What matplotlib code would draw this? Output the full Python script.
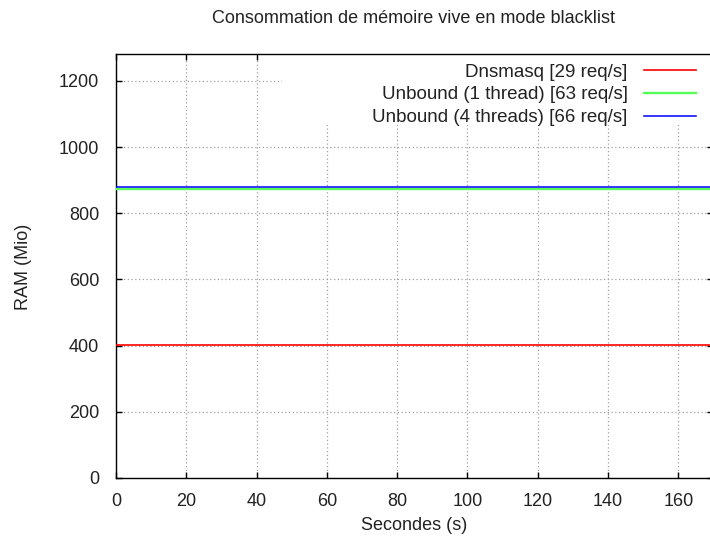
import matplotlib
matplotlib.use("Agg")
import matplotlib.pyplot as plt
from matplotlib.patches import Rectangle

# data (flat RAM usage)
seconds = [0, 170]
dnsmasq = [403, 403]
unbound_1 = [873, 873]
unbound_4 = [880, 880]

labels = ["Dnsmasq [29 req/s]",
          "Unbound (1 thread) [63 req/s]",
          "Unbound (4 threads) [66 req/s]"]
xticks = [0, 20, 40, 60, 80, 100, 120, 140, 160]
yticks = [0, 200, 400, 600, 800, 1000, 1200]

plt.rcParams['font.family'] = ['Liberation Sans', 'DejaVu Sans']
plt.rcParams['font.size'] = 13

W, H = 710, 541
fig = plt.figure(figsize=(W / 100, H / 100), dpi=100)
# axes run slightly past the right edge of the picture (cropped like the original)
ax = fig.add_axes([116 / W, (H - 478) / H, (713.5 - 116) / W, (478 - 54.5) / H])

ax.set_xlim(0, 170)
ax.set_ylim(0, 1280)
ax.set_xticks(xticks)
ax.set_yticks(yticks)

ax.set_axisbelow(True)
ax.grid(True, color='#a0a0a0', linestyle=(0, (1, 2)), linewidth=0.9)

# white block behind the key, hides the grid like gnuplot does
ax.add_patch(Rectangle((47.3, 1066), 130, 300, facecolor='white',
                       edgecolor='none', zorder=1))

l1, = ax.plot(seconds, dnsmasq, color='#ff0000', lw=1.2, zorder=3)
l2, = ax.plot(seconds, unbound_1, color='#55ff55', lw=1.7, zorder=3)
l3, = ax.plot(seconds, unbound_4, color='#0000ff', lw=1.1, zorder=4)

for s in ax.spines.values():
    s.set_linewidth(1.0)
ax.tick_params(direction='in', length=4.5, width=1, top=True, right=True,
               colors='black', labelcolor='#222222')
ax.tick_params(axis='y', pad=12)
ax.tick_params(axis='x', pad=11)

leg = fig.legend([l1, l2, l3], labels, markerfirst=False, frameon=False,
                 loc='upper right', bbox_to_anchor=(696 / W, 1 - 63.5 / H),
                 borderpad=0, borderaxespad=0, handlelength=2.8,
                 handletextpad=0.85, labelspacing=0.3, fontsize=13.5)
for t in leg.get_texts():
    t.set_color('#222222')

fig.text(413 / W, 1 - 18.5 / H, "Consommation de mémoire vive en mode blacklist",
         ha='center', va='center', color='#222222')
fig.text(414 / W, 1 - 525 / H, "Secondes (s)", ha='center', va='center',
         color='#222222')
fig.text(23 / W, 1 - 267 / H, "RAM (Mio)", ha='center', va='center',
         rotation=90, color='#222222')

fig.savefig("out.png", dpi=100)
